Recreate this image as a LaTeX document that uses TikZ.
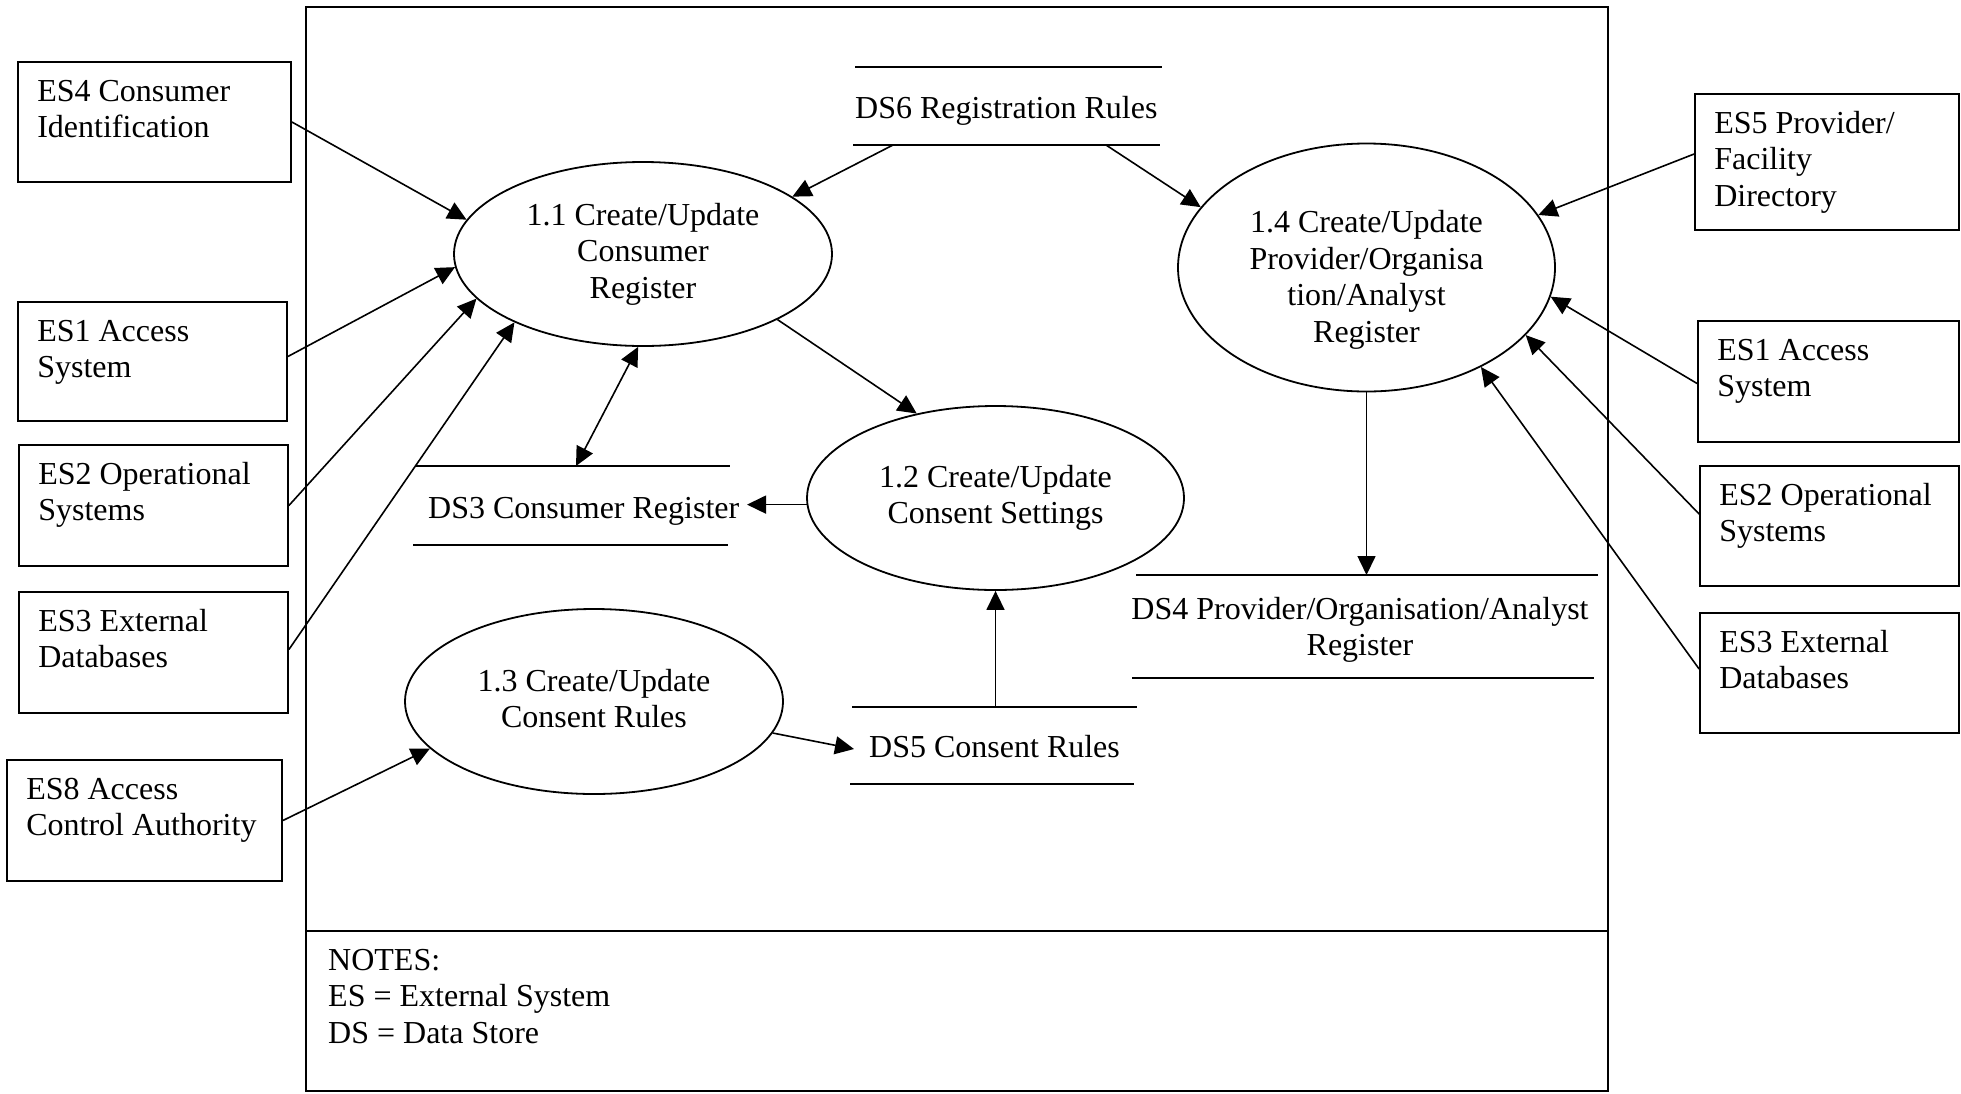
\documentclass[tikz,border=0pt]{standalone}
\usepackage{fontspec}
\setmainfont{Liberation Serif}
\usetikzlibrary{arrows.meta,shapes.geometric}
\newcommand{\dfdfont}{\fontsize{32}{36.5}\selectfont}
\begin{document}
\begin{tikzpicture}[x=1pt,y=-1pt,
  frameline/.style={line width=1.8pt},
  arr/.style={line width=1.6pt, -{Triangle[length=19pt,width=18pt]}},
  dblarr/.style={line width=1.6pt, {Triangle[length=19pt,width=18pt]}-{Triangle[length=19pt,width=18pt]}},
  esbox/.style={draw, line width=1.8pt, rectangle, inner sep=0pt},
  estext/.style={anchor=north west, inner sep=0pt, align=left, font=\dfdfont, xshift=20pt, yshift=-14.45pt},
  proc/.style={draw, ellipse, line width=1.8pt, inner sep=0pt, align=center, font=\dfdfont},
  proctext/.style={inner sep=0pt, align=center, font=\dfdfont},
  dsline/.style={line width=2.8pt},
  dstext/.style={anchor=base west, inner sep=0pt, font=\dfdfont},
]
\useasboundingbox (0,0) rectangle (1961,1093);

% outer frame and notes divider
\draw[frameline] (306,7) rectangle (1608,1091);
\draw[frameline] (306,931) -- (1608,931);
\node[anchor=north west, inner sep=0pt, align=left, font=\dfdfont] (notes) at (328,944.45)
  {\strut NOTES:\\ES = External System\\DS = Data Store};

% processes
\node[proc, minimum width=378pt, minimum height=184pt] (p11) at (643,254) {1.1 Create/Update\\Consumer\\Register};
\node[proc, minimum width=377pt, minimum height=184pt] (p12) at (995.5,498) {1.2 Create/Update\\Consent Settings};
\node[proc, minimum width=378pt, minimum height=185pt] (p13) at (594,701.5) {};
\node[proctext] (p13t) at ([yshift=3pt]p13.center) {1.3 Create/Update\\Consent Rules};
\node[proc, minimum width=377pt, minimum height=248pt] (p14) at (1366.5,267.5) {};
\node[proctext] (p14t) at ([yshift=-12.5pt]p14.center) {1.4 Create/Update\\Provider/Organisa\\tion/Analyst\\Register};

% external systems, left
\node[esbox, minimum width=273pt, minimum height=120pt] (es4) at (154.5,122) {};
\node[estext] (es4t) at (es4.north west) {\strut ES4 Consumer\\Identification};
\node[esbox, minimum width=269pt, minimum height=119pt] (es1l) at (152.5,361.5) {};
\node[estext] (es1lt) at (es1l.north west) {\strut ES1 Access\\System};
\node[esbox, minimum width=269pt, minimum height=121pt] (es2l) at (153.5,505.5) {};
\node[estext] (es2lt) at (es2l.north west) {\strut ES2 Operational\\Systems};
\node[esbox, minimum width=269pt, minimum height=121pt] (es3l) at (153.5,652.5) {};
\node[estext] (es3lt) at (es3l.north west) {\strut ES3 External\\Databases};
\node[esbox, minimum width=275pt, minimum height=121pt] (es8) at (144.5,820.5) {};
\node[estext] (es8t) at (es8.north west) {\strut ES8 Access\\Control Authority};

% external systems, right
\node[esbox, minimum width=264pt, minimum height=136pt] (es5) at (1827,162) {};
\node[estext] (es5t) at (es5.north west) {\strut ES5 Provider/\\Facility\\Directory};
\node[esbox, minimum width=261pt, minimum height=121pt] (es1r) at (1828.5,381.5) {};
\node[estext] (es1rt) at (es1r.north west) {\strut ES1 Access\\System};
\node[esbox, minimum width=259pt, minimum height=120pt] (es2r) at (1829.5,526) {};
\node[estext] (es2rt) at (es2r.north west) {\strut ES2 Operational\\Systems};
\node[esbox, minimum width=259pt, minimum height=120pt] (es3r) at (1829.5,673) {};
\node[estext] (es3rt) at (es3r.north west) {\strut ES3 External\\Databases};

% data stores
\draw[dsline] (855,67) -- (1162,67);
\draw[dsline] (853,145) -- (1160,145);
\node[dstext] (ds6) at (855,118) {DS6 Registration Rules};
\draw[dsline] (415,466) -- (730,466);
\draw[dsline] (413,545) -- (728,545);
\node[dstext] (ds3) at (428,518) {DS3 Consumer Register};
\draw[dsline] (852,707) -- (1137,707);
\draw[dsline] (850,784) -- (1134,784);
\node[dstext] (ds5) at (869,757) {DS5 Consent Rules};
\draw[dsline] (1136,575) -- (1598,575);
\draw[dsline] (1132,678) -- (1594,678);
\node[anchor=north, inner sep=0pt, align=center, font=\dfdfont] (ds4) at (1360,593.45)
  {\strut DS4 Provider/Organisation/Analyst\\Register};

% connector end points on data store lines
\coordinate (ds6a) at (893,145);
\coordinate (ds6b) at (1106,145);
\coordinate (ds3a) at (576,466);
\coordinate (ds3b) at (747,504);
\coordinate (ds5a) at (996,707);
\coordinate (ds5b) at (854,749);
\coordinate (ds4a) at (1367,575);

% flows
\draw[arr] (es4.east) -- (p11.169);
\draw[arr] ([yshift=5pt]es1l.east) -- (p11.184);
\draw[arr] (es2l.east) -- (p11.195);
\draw[arr] ([yshift=3pt]es3l.east) -- (p11.208);
\draw[arr] (es8.east) -- (p13.196);
\draw[arr] (ds6a) -- (p11.21);
\draw[arr] (ds6b) -- (p14.160);
\draw[arr] (p11.-26) -- (p12.133);
\draw[dblarr] (ds3a) -- (p11.267);
\draw[arr] (p12.182) -- (p12.182 -| ds3b);
\draw[arr] (p12.south |- ds5a) -- (p12.south);
\draw[arr] (p13.-10) -- (ds5b);
\draw[arr] (p14.south) -- (p14.south |- ds4a);
\draw[arr] ([yshift=8pt]es5.west) -- (p14.17);
\draw[arr] ([yshift=-2pt]es1r.west) -- (p14.-9);
\draw[arr] ([yshift=12pt]es2r.west) -- (p14.-23.5);
\draw[arr] ([yshift=4pt]es3r.west) -- (p14.-41.6);
\end{tikzpicture}
\end{document}
